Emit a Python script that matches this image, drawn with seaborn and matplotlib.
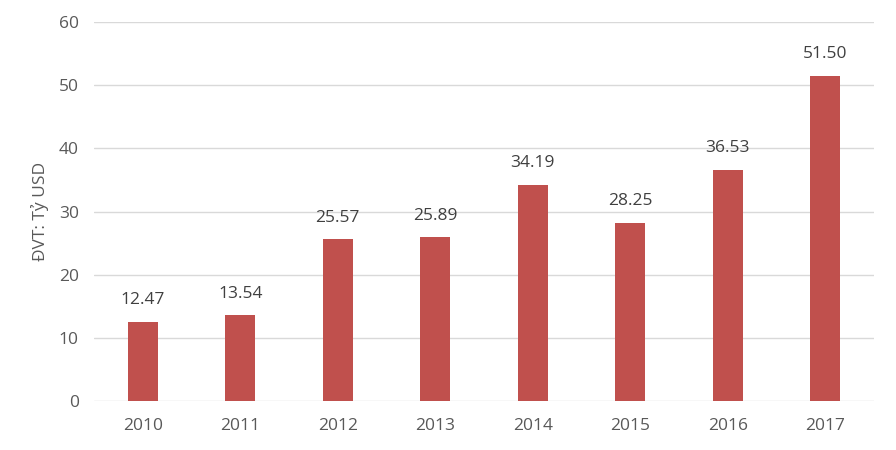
import pandas as pd
import matplotlib
matplotlib.use("Agg")
import matplotlib.pyplot as plt
import seaborn as sns

# Data
years = ["2010", "2011", "2012", "2013", "2014", "2015", "2016", "2017"]
values = [12.47, 13.54, 25.57, 25.89, 34.19, 28.25, 36.53, 51.50]

df = pd.DataFrame({"year": years, "value": values})

sns.set_theme(style="whitegrid")
plt.rcParams["font.family"] = ["Open Sans", "DejaVu Sans"]

fig = plt.figure(figsize=(8.96, 4.5), dpi=100)
ax = fig.add_axes([0.1049, 0.1089, 0.8705, 0.8422])

sns.barplot(data=df, x="year", y="value", color="#C0504D", width=0.31,
            saturation=1, linewidth=0, ax=ax)

for p, v in zip(ax.patches, values):
    ax.text(p.get_x() + p.get_width() / 2, v + 2.2, f"{v:.2f}",
            ha="center", va="bottom", fontsize=12.5, color="#404040")

ax.set_ylim(0, 60)
ax.set_yticks(range(0, 61, 10))
ax.set_xlim(-0.5, len(years) - 0.5)
ax.grid(axis="y", color="#D9D9D9", linewidth=1)
ax.grid(axis="x", visible=False)
for s in ax.spines.values():
    s.set_visible(False)
ax.tick_params(axis="both", length=0, labelsize=12.5, labelcolor="#595959")
ax.tick_params(axis="y", pad=11)
ax.tick_params(axis="x", pad=12)
ax.set_xlabel("")
ax.set_ylabel("ĐVT: Tỷ USD", fontsize=12.5, color="#595959", labelpad=7)

fig.savefig("out.png", dpi=100)
